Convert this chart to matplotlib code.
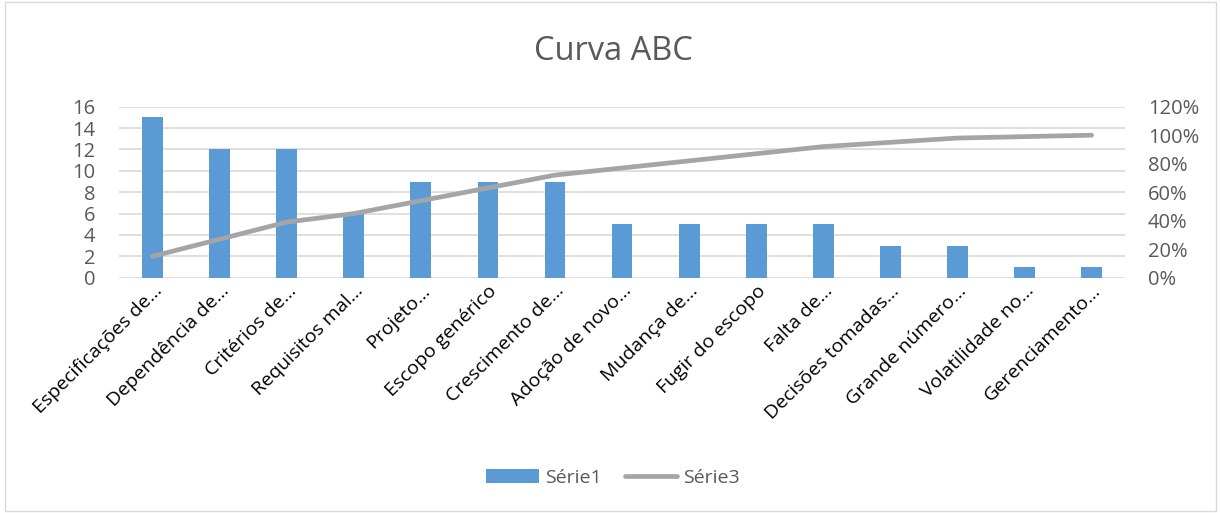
import numpy as np
import matplotlib
matplotlib.use('Agg')
import matplotlib.pyplot as plt
from matplotlib.patches import Rectangle
from matplotlib.ticker import PercentFormatter

# Dados da curva ABC
categorias = ['Especificações de…', 'Dependência de…', 'Critérios de…',
              'Requisitos mal…', 'Projeto…', 'Escopo genérico',
              'Crescimento de…', 'Adoção de novo…', 'Mudança de…',
              'Fugir do escopo', 'Falta de…', 'Decisões tomadas…',
              'Grande número…', 'Volatilidade no…', 'Gerenciamento…']
serie1 = [15, 12, 12, 6, 9, 9, 9, 5, 5, 5, 5, 3, 3, 1, 1]
serie3 = [15, 27, 39, 45, 54, 63, 72, 77, 82, 87, 92, 95, 98, 99, 100]

plt.rcParams['font.family'] = ['Open Sans', 'DejaVu Sans']

azul = '#5B9BD5'
cinza = '#A5A5A5'
texto = '#595959'

fig = plt.figure(figsize=(12.21, 5.13), dpi=100)
fig.patches.append(Rectangle((0.004, 0.004), 0.992, 0.992, transform=fig.transFigure,
                             fill=False, edgecolor='#D9D9D9', linewidth=1))

ax = fig.add_axes([0.0975, 0.4587, 0.824, 0.3333])
x = np.arange(len(categorias))
b = ax.bar(x, serie1, width=0.31, color=azul, label='Série1', zorder=2)
ax.set_ylim(0, 16)
ax.set_yticks(range(0, 17, 2))
ax.set_xlim(-0.5, len(categorias) - 0.5)
ax.yaxis.grid(True, color='#D9D9D9', linewidth=1.2, zorder=0)
ax.set_axisbelow(True)
for s in ax.spines.values():
    s.set_visible(False)
ax.tick_params(axis='y', length=0, labelsize=14.5, labelcolor=texto, pad=17)
ax.tick_params(axis='x', length=0, pad=3)
ax.set_xticks(x)
ax.set_xticklabels(categorias, rotation=45, ha='right', rotation_mode='anchor',
                   fontsize=14, color='black')

ax2 = ax.twinx()
l, = ax2.plot(x, serie3, color=cinza, linewidth=3.4, solid_capstyle='round',
              label='Série3', zorder=3)
ax2.set_ylim(0, 120)
ax2.set_yticks(range(0, 121, 20))
ax2.yaxis.set_major_formatter(PercentFormatter(decimals=0))
for s in ax2.spines.values():
    s.set_visible(False)
ax2.tick_params(axis='y', length=0, labelsize=14.5, labelcolor=texto, pad=16.5)

fig.text(0.502, 0.9, 'Curva ABC', ha='center', va='center', fontsize=23.5, color=texto)

fig.legend([b, l], ['Série1', 'Série3'], loc='center', bbox_to_anchor=(0.502, 0.069),
           ncol=2, frameon=False, fontsize=14, labelcolor=texto,
           handlelength=2.7, handletextpad=0.3, columnspacing=1.2)

fig.savefig('out.png', dpi=100)
